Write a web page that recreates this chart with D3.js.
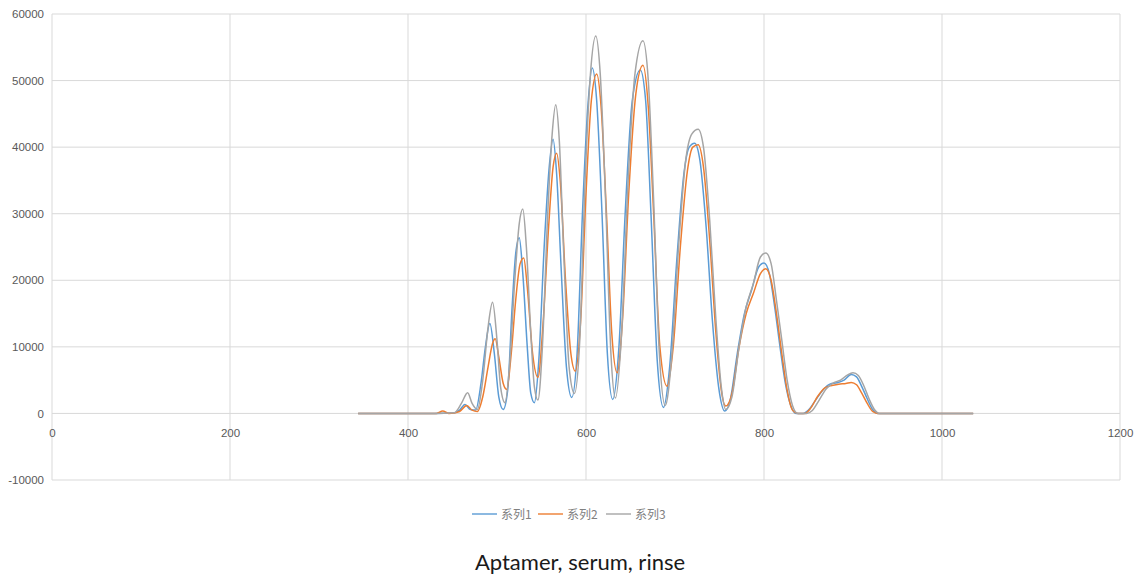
<!DOCTYPE html>
<html>
<head>
<meta charset="utf-8">
<script src="https://cdn.jsdelivr.net/npm/d3@7"></script>
<style>
  body{margin:0;background:#fff;}
  svg{display:block;}
</style>
</head>
<body>
<svg class="chart"></svg>
<script>
// wavelength (nm) / intensity, one pair of arrays per series
var wave1 = [344,430,450,458,464,470,476,482,487,492,497,502,507,512,517,521,525,529,534,538,542,547,553,559,563,567,572,578,584,590,596,602,607,612,618,624,630,637,644,652,661,667,673,680,687,694,702,710,716,722,728,735,742,749,756,762,770,778,786,794,800,806,812,818,824,830,836,844,850,858,866,874,882,890,898,904,910,916,922,928,1035];
var vals1 = [0,0,50,500,1350,600,500,4500,10000,13500,9000,2500,600,3500,16000,24000,26400,21000,10000,3000,1600,8000,25000,37500,41200,36000,22000,7000,2400,9000,30000,46000,51900,47000,30000,9000,2100,10000,30000,47000,51600,47000,30000,8000,900,7000,23000,36000,40000,40600,38000,28000,14000,4000,350,2000,9000,15000,18500,22000,22600,21000,16000,10000,4500,1200,0,0,500,2000,3500,4400,4600,5000,5850,5500,4000,2200,600,0,0];

var wave2 = [344,432,439,446,458,466,472,478,484,490,495,498,502,507,511,516,521,526,530,534,540,546,552,558,563,567,571,577,583,588,594,600,606,612,617,623,629,635,641,648,656,664,670,676,683,691,698,706,714,720,726,732,739,746,752,757,764,772,780,788,796,802,808,814,820,826,832,838,846,852,860,868,876,884,892,898,904,910,916,922,928,1035];
var vals2 = [0,0,350,0,300,1200,500,300,2500,7000,10500,11200,8500,4500,3600,9000,17000,22500,23350,19000,9000,5400,14000,28000,37000,39100,35000,20000,9000,6350,14000,33000,47000,51000,46000,30000,12000,6100,14000,33000,48000,52300,46000,30000,10000,4100,10000,25000,36500,40000,40350,37000,26000,12000,3500,1100,3000,10000,15000,18000,21000,21750,20000,15000,9000,3500,500,0,0,700,2500,3800,4200,4400,4500,4650,4300,3000,1500,300,0,0];

var wave3 = [344,430,452,460,467,472,478,484,490,495,500,504,509,514,520,525,529,533,538,542,546,551,557,562,566,570,575,581,587,593,599,605,611,616,622,628,633,640,647,655,664,670,676,682,689,696,704,712,719,726,732,739,746,752,757,764,772,780,788,796,802,808,814,820,826,832,838,848,854,862,870,878,886,894,900,906,912,918,924,930,1035];
var vals3 = [0,0,100,1500,3100,1500,600,5000,13000,16700,11000,4000,1600,7000,20000,28500,30700,25000,12000,4000,2000,10000,30000,42000,46350,41000,24000,7000,3000,11000,35000,51000,56700,51000,32000,9000,2300,12000,34000,51000,56000,50000,32000,10000,1200,8000,25000,38000,42000,42700,40000,29000,14000,4000,600,2500,10000,16000,19500,23500,24100,22500,17000,11000,5000,1200,0,0,400,2000,3700,4600,5000,5800,6100,5700,4200,2200,600,0,0];

var seriesNames = ["系列1","系列2","系列3"];
var seriesColors = ["#5b9bd5","#ed7d31","#a5a5a5"];
var xTicks = [0,200,400,600,800,1000,1200];
var yTicks = [-10000,0,10000,20000,30000,40000,50000,60000];
var title = "Aptamer, serum, rinse";

var width = 1140, height = 583;
var plot = {left:52, right:1120, top:14, bottom:480};

var svg = d3.select("svg.chart")
            .attr("width",width)
            .attr("height",height);

svg.append("rect")
   .attr("width",width)
   .attr("height",height)
   .attr("fill","#fff");

var xScale = d3.scaleLinear()
               .domain([0,1200])
               .range([plot.left,plot.right]);
var yScale = d3.scaleLinear()
               .domain([-10000,60000])
               .range([plot.bottom,plot.top]);

// gridlines
svg.append("g")
   .selectAll("line")
   .data(yTicks)
   .enter()
   .append("line")
   .attr("x1",plot.left)
   .attr("x2",plot.right)
   .attr("y1",function(d){return yScale(d);})
   .attr("y2",function(d){return yScale(d);})
   .attr("stroke","#d9d9d9")
   .attr("stroke-width",1);

svg.append("g")
   .selectAll("line")
   .data(xTicks)
   .enter()
   .append("line")
   .attr("x1",function(d){return xScale(d);})
   .attr("x2",function(d){return xScale(d);})
   .attr("y1",plot.top)
   .attr("y2",plot.bottom)
   .attr("stroke","#d9d9d9")
   .attr("stroke-width",1);

// axes: only labels, Excel style (plain hyphen for negatives)
var plain = function(d){return String(d);};
var yAxis = d3.axisLeft(yScale)
              .tickValues(yTicks)
              .tickSize(0)
              .tickPadding(8)
              .tickFormat(plain);
var gy = svg.append("g")
            .attr("transform","translate("+plot.left+",0)")
            .call(yAxis);

var xAxis = d3.axisBottom(xScale)
              .tickValues(xTicks)
              .tickSize(0)
              .tickPadding(15)
              .tickFormat(plain);
var gx = svg.append("g")
            .attr("transform","translate(0,"+yScale(0)+")")
            .call(xAxis);

[gx,gy].forEach(function(g){
  g.select(".domain").remove();
  g.selectAll("text")
   .attr("fill","#595959")
   .style("font-family","'Liberation Sans', Arial, sans-serif")
   .style("font-size","11.5px");
});

// series lines
var waves = [wave1,wave2,wave3];
var vals = [vals1,vals2,vals3];
var line = d3.line()
             .x(function(d){return xScale(d[0]);})
             .y(function(d){return yScale(d[1]);})
             .curve(d3.curveMonotoneX);

seriesNames.forEach(function(name,i){
  var pts = waves[i].map(function(w,j){return [w,vals[i][j]];});
  svg.append("path")
     .datum(pts)
     .attr("d",line)
     .attr("fill","none")
     .attr("stroke",seriesColors[i])
     .attr("stroke-width",1.5)
     .attr("stroke-linejoin","round");
});

// legend
var legend = svg.append("g")
                .attr("transform","translate(472,514)");
var legX = [0,66,134];
var items = legend.selectAll("g")
                  .data(seriesNames)
                  .enter()
                  .append("g")
                  .attr("transform",function(d,i){return "translate("+legX[i]+",0)";});
items.append("line")
     .attr("x1",0)
     .attr("x2",25)
     .attr("stroke",function(d,i){return seriesColors[i];})
     .attr("stroke-width",1.4);
items.append("text")
     .text(function(d){return d;})
     .attr("x",29)
     .attr("y",4.5)
     .attr("fill","#808080")
     .style("font-family","'Noto Sans CJK SC', sans-serif")
     .style("font-size","12px");

// title
svg.append("text")
   .text(title)
   .attr("x",580)
   .attr("y",570)
   .attr("text-anchor","middle")
   .attr("fill","#1a1a1a")
   .style("font-family","Lato, 'Open Sans', sans-serif")
   .style("font-size","22px");
</script>
</body>
</html>
